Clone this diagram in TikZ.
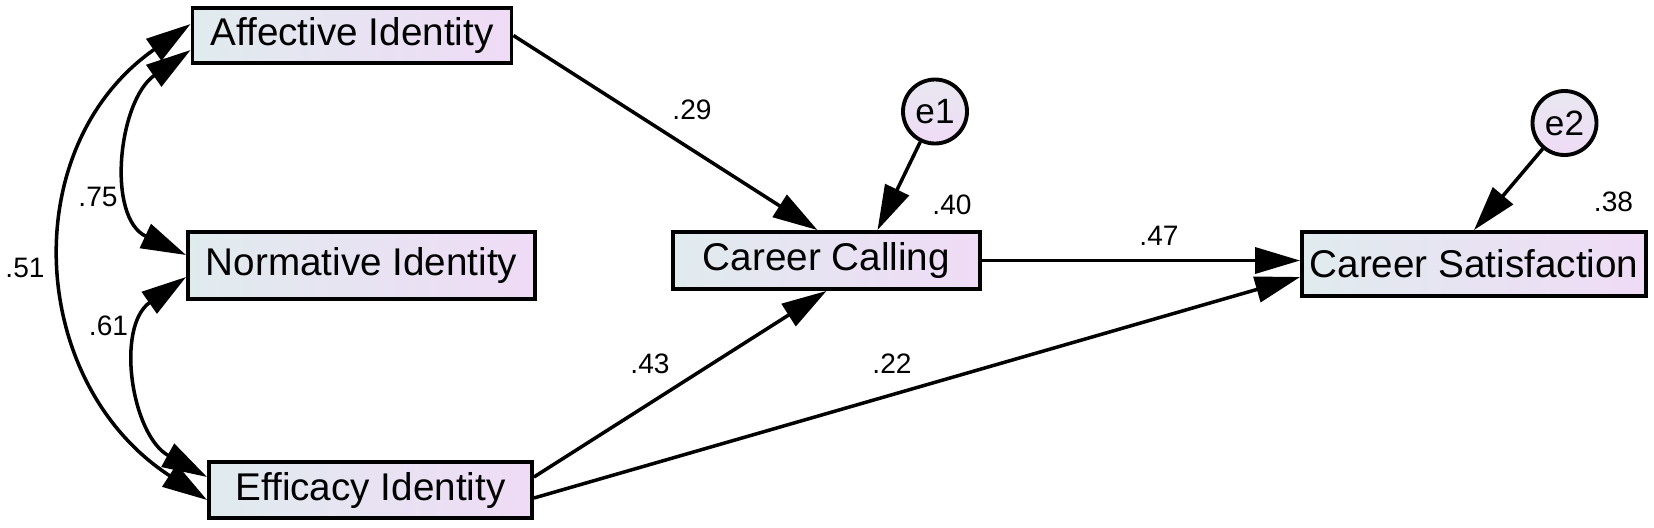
\documentclass[tikz,border=0pt]{standalone}
\usepackage{fontspec}
\setmainfont{Liberation Sans}
\usepackage{xcolor}
\usetikzlibrary{arrows.meta,calc}
\definecolor{boxleft}{RGB}{224,235,238}
\definecolor{boxright}{RGB}{239,219,246}
\definecolor{circtop}{RGB}{232,232,240}
\tikzset{
    obsvar/.style={rectangle, draw, line width=1.1pt, left color=boxleft, right color=boxright, font=\fontsize{11}{13}\selectfont, inner sep=1pt},
    errvar/.style={circle, draw, line width=1.1pt, top color=circtop, bottom color=boxright, minimum size=0.64cm, inner sep=0pt, font=\fontsize{10}{12}\selectfont},
    coef/.style={font=\fontsize{8}{10}\selectfont, inner sep=0pt},
    regarrow/.style={line width=1pt, -{Triangle[length=0.45cm,width=0.26cm]}},
    covarrow/.style={line width=1pt, {Triangle[length=0.45cm,width=0.26cm]}-{Triangle[length=0.45cm,width=0.26cm]}, looseness=1.1}
}
\begin{document}
\begin{tikzpicture}
            \useasboundingbox (0,0) rectangle (16.54,5.27);
            \node[obsvar, minimum width=3.19cm, minimum height=0.55cm] at (3.52,4.915) (aff) {Affective Identity};
            \node[obsvar, minimum width=3.47cm, minimum height=0.67cm] at (3.615,2.615) (nor) {Normative Identity};
            \node[obsvar, minimum width=3.23cm, minimum height=0.56cm] at (3.705,0.37) (eff) {Efficacy Identity};
            \node[obsvar, minimum width=3.07cm, minimum height=0.57cm] at (8.265,2.665) (cc) {Career Calling};
            \node[obsvar, minimum width=3.44cm, minimum height=0.64cm] at (14.74,2.63) (cs) {Career Satisfaction};
            \node[errvar] at (9.35,4.155) (e1) {e1};
            \node[errvar] at (15.645,4.04) (e2) {e2};
            \draw[regarrow] (aff.east) -- ([xshift=-0.09cm]cc.north);
            \draw[regarrow] (e1) -- ([xshift=0.51cm]cc.north);
            \draw[regarrow] ([yshift=0.13cm]eff.east) -- (cc.south);
            \draw[regarrow] (cc.east) -- (cc.east -| cs.west);
            \draw[regarrow] ([yshift=-0.08cm]eff.east) -- ([yshift=-0.13cm]cs.west);
            \draw[regarrow] (e2) -- (cs.north);
            \draw[covarrow, looseness=1.15] ([yshift=0.115cm]aff.west) to[out=215,in=147] ([yshift=-0.10cm]eff.west);
            \draw[covarrow] ([yshift=-0.145cm]aff.west) to[out=215,in=155] ([yshift=0.105cm]nor.west);
            \draw[covarrow] ([yshift=-0.115cm]nor.west) to[out=215,in=151] ([yshift=0.13cm]eff.west);
            \node[coef] at (0.25,2.59) (c51) {.51};
            \node[coef] at (0.98,3.30) (c75) {.75};
            \node[coef] at (1.085,2.01) (c61) {.61};
            \node[coef] at (6.92,4.17) (c29) {.29};
            \node[coef] at (9.52,3.22) (c40) {.40};
            \node[coef] at (11.59,2.91) (c47) {.47};
            \node[coef] at (6.50,1.63) (c43) {.43};
            \node[coef] at (8.92,1.63) (c22) {.22};
            \node[coef] at (16.135,3.25) (c38) {.38};
        \end{tikzpicture}
\end{document}
